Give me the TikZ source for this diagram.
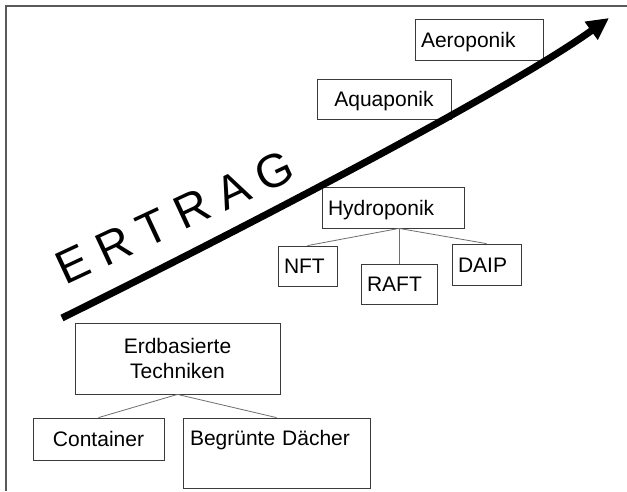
\documentclass[tikz,border=0pt]{standalone}
\usepackage{fontspec}
\setmainfont{Liberation Sans}
\usetikzlibrary{arrows.meta}
\definecolor{frame}{HTML}{5A5A5A}
\definecolor{edge}{HTML}{3A3A3A}
\definecolor{conn}{HTML}{6E6E6E}
\begin{document}
\begin{tikzpicture}[x=1pt,y=-1pt,
  every node/.style={font=\fontsize{21}{25}\selectfont},
  bx/.style={draw=edge, line width=0.8pt, inner xsep=6pt, inner ysep=4pt,
             text height=15.5pt, text depth=0.5pt},
  conline/.style={draw=conn, line width=0.8pt},
  bigarrow/.style={line width=7pt, -{Triangle[length=22pt,width=21pt]}}
]
\useasboundingbox (0,0) rectangle (627,491);
\fill[white] (0,0) rectangle (627,491);
% frame
\draw[frame, line width=1.4pt] (6,491) -- (6,6) -- (627,6);

% boxes
\node[bx, text width=116pt, align=left, minimum height=41pt] (aero) at (479,39.5) {Aeroponik};
\node[bx, text width=122pt, align=center, minimum height=40pt] (aqua) at (384,99) {Aquaponik};
\node[bx, text width=130pt, align=left, minimum height=41pt] (hydro) at (393,207.5) {Hydroponik};
\node[bx, text width=47pt, align=left, minimum height=40pt] (nft) at (307.5,266) {NFT};
\node[bx, text width=64pt, align=left, minimum height=40pt] (raft) at (399,284) {RAFT};
\node[bx, text width=57pt, align=left, minimum height=41pt] (daip) at (486.5,264.5) {DAIP};
\node[draw=edge, line width=0.8pt, inner xsep=6pt, text width=193pt, align=center, minimum height=71pt] (erd) at (177.5,358.5) {Erdbasierte\\Techniken};
\node[bx, text width=119pt, align=center, minimum height=42pt] (cont) at (98.5,439) {Container};
\node[bx, text width=173pt, align=left, inner xsep=7pt, text height=23.5pt, text depth=38.5pt] (beg) at (276.5,453) {Begrünte Dächer};

% connectors
\draw[conline] (hydro.south -| raft.north) -- (nft.north);
\draw[conline] (hydro.south -| raft.north) -- (raft.north);
\draw[conline] (hydro.south -| raft.north) -- (daip.north);
\draw[conline] (erd.south) -- (cont.north);
\draw[conline] (erd.south) -- (beg.north);

% yield arrow
\coordinate (arrstart) at (62,318);
\coordinate (arrend) at (609,18);
\draw[bigarrow] (arrstart) .. controls (250,225) and (509,90) .. (arrend);

% ERTRAG label
\node[rotate=25, font=\fontsize{47}{50}\selectfont] (ertrag) at (175,217)
  {E\hspace{12pt}R\hspace{12pt}T\hspace{12pt}R\hspace{12pt}A\hspace{12pt}G};
\end{tikzpicture}
\end{document}
